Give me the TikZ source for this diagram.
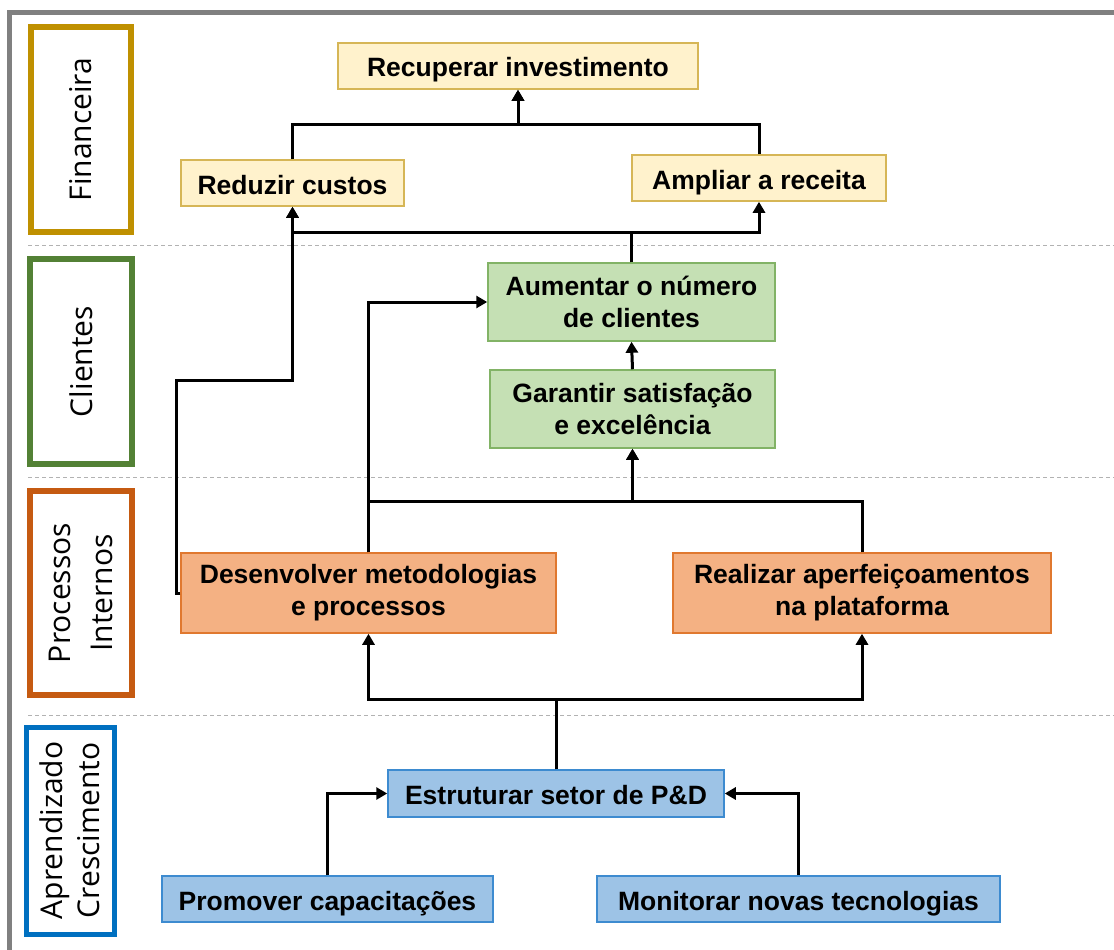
\documentclass[tikz,border=0pt]{standalone}
\usepackage{fontspec}
\newfontfamily\nodefont{Liberation Sans}
\newfontfamily\lanefont{Open Sans}
\usetikzlibrary{arrows.meta}
\definecolor{finc}{HTML}{BF9000}
\definecolor{clic}{HTML}{538135}
\definecolor{proc}{HTML}{C55A11}
\definecolor{aprc}{HTML}{0070C0}
\definecolor{yfill}{HTML}{FFF2CC}
\definecolor{ydraw}{HTML}{D6B656}
\definecolor{gfill}{HTML}{C5E0B4}
\definecolor{gdraw}{HTML}{82B366}
\definecolor{ofill}{HTML}{F4B183}
\definecolor{odraw}{HTML}{E0782F}
\definecolor{bfill}{HTML}{9DC3E6}
\definecolor{bdraw}{HTML}{3D8BD0}
\tikzset{
  objbox/.style={rectangle, line width=1.5pt, inner sep=0pt, align=center,
    font=\nodefont\bfseries\fontsize{26.5}{32}\selectfont},
  oneline/.style={text height=22pt, text depth=0pt},
  ybox/.style={objbox, fill=yfill, draw=ydraw},
  gbox/.style={objbox, fill=gfill, draw=gdraw},
  obox/.style={objbox, fill=ofill, draw=odraw},
  bbox/.style={objbox, fill=bfill, draw=bdraw},
  lanebox/.style={rectangle, line width=6pt, fill=white, rotate=90, inner sep=0pt, align=center,
    font=\lanefont\fontsize{30}{42}\selectfont},
  conn/.style={line width=3pt, -{Triangle[length=11pt,width=12pt]}},
  sep/.style={draw=black!30, line width=1pt, dash pattern=on 4pt off 3pt}
}
\begin{document}
\begin{tikzpicture}[x=1pt,y=-1pt]
\useasboundingbox (0,0) rectangle (1114,950);
% outer frame
\draw[black!50, line width=5pt] (9.5,952) -- (9.5,12.5) -- (1116,12.5);
% separators
\draw[sep] (28,245) -- (1114,245);
\draw[sep] (28,477) -- (1114,477);
\draw[sep] (28,715) -- (1114,715);
% lane labels
\node[lanebox, draw=finc, minimum width=205pt, minimum height=100pt] (lf) at (81,129.5) {Financeira};
\node[lanebox, draw=clic, minimum width=205pt, minimum height=102pt] (lc) at (81,361.5) {Clientes};
\node[lanebox, draw=proc, minimum width=204pt, minimum height=102pt] (lp) at (81,593) {Processos\\Internos};
\node[lanebox, draw=aprc, line width=5pt, minimum width=207pt, minimum height=88pt,
  font=\lanefont\fontsize{30}{37}\selectfont] (la) at (70,830.5) {Aprendizado\\Crescimento};
% objective nodes
\node[ybox, oneline, minimum width=360pt, minimum height=46pt] (rec) at (518,66) {Recuperar investimento};
\node[ybox, oneline, minimum width=223pt, minimum height=46pt] (red) at (292.5,183) {Reduzir custos};
\node[ybox, oneline, minimum width=254pt, minimum height=46pt] (amp) at (759,178) {Ampliar a receita};
\node[gbox, minimum width=287pt, minimum height=78pt] (aum) at (631.5,302) {Aumentar o número\\de clientes};
\node[gbox, minimum width=285pt, minimum height=78pt] (gar) at (632.5,409) {Garantir satisfação\\e excelência};
\node[obox, minimum width=375pt, minimum height=80pt] (des) at (368.5,593) {Desenvolver metodologias\\e processos};
\node[obox, minimum width=378pt, minimum height=80pt] (rea) at (862,593) {Realizar aperfeiçoamentos\\na plataforma};
\node[bbox, oneline, minimum width=336pt, minimum height=47pt] (est) at (556,793.5) {Estruturar setor de P\&D};
\node[bbox, oneline, minimum width=331pt, minimum height=46pt] (pro) at (327.5,899) {Promover capacitações};
\node[bbox, oneline, minimum width=403pt, minimum height=46pt] (mon) at (798.5,899) {Monitorar novas tecnologias};
\coordinate (k1) at (176,380);
% connectors
\draw[conn] (red.north) -- ++(0,-35) -| (rec.south);
\draw[conn] (amp.north) -- ++(0,-30) -| (rec.south);
\draw[conn] (aum.north) -- ++(0,-30) -| (red.south);
\draw[conn] (aum.north) -- ++(0,-30) -| (amp.south);
\draw[conn] (des.west) -| (k1) -| (red.south);
\draw[conn] (des.north) |- (aum.west);
\draw[conn] (des.north) -- ++(0,-51) -| (gar.south);
\draw[conn] (rea.north) -- ++(0,-51) -| (gar.south);
\draw[conn] (gar.north) -- (aum.south);
\draw[conn] (est.north) -- ++(0,-70) -| (des.south);
\draw[conn] (est.north) -- ++(0,-70) -| (rea.south);
\draw[conn] (pro.north) |- (est.west);
\draw[conn] (mon.north) |- (est.east);
\end{tikzpicture}
\end{document}
